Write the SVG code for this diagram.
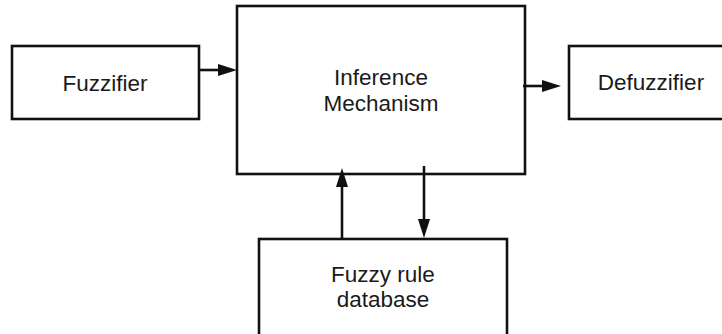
<svg xmlns="http://www.w3.org/2000/svg" width="722" height="334" viewBox="0 0 722 334">
  <style>
    .box { fill: #ffffff; stroke: #111111; stroke-width: 2.6; }
    .label { font-family: "Liberation Sans", Arial, sans-serif; font-size: 22.5px; fill: #1a1a1a; text-anchor: middle; }
    .wire { stroke: #111111; stroke-width: 2.6; fill: none; marker-end: url(#head); }
  </style>
  <defs>
    <marker id="head" markerUnits="userSpaceOnUse" markerWidth="19" markerHeight="12" refX="9" refY="6" orient="auto">
      <path d="M0,0 L19,6 L0,12 z" fill="#111111"/>
    </marker>
  </defs>
  <rect width="722" height="334" fill="#ffffff"/>

  <g id="fuzzifier">
    <rect class="box" x="12" y="46" width="187" height="73"/>
    <text class="label" x="105" y="91">Fuzzifier</text>
  </g>

  <g id="inference">
    <rect class="box" x="237" y="6" width="288" height="168"/>
    <text class="label" x="381" y="85">Inference</text>
    <text class="label" x="381" y="111">Mechanism</text>
  </g>

  <g id="defuzzifier">
    <rect class="box" x="569" y="46" width="170" height="73"/>
    <text class="label" x="651" y="90">Defuzzifier</text>
  </g>

  <g id="rulebase">
    <rect class="box" x="259" y="239" width="248" height="110"/>
    <text class="label" x="383" y="282">Fuzzy rule</text>
    <text class="label" x="383" y="307">database</text>
  </g>

  <g id="connectors">
    <line class="wire" x1="199" y1="70" x2="227" y2="70"/>
    <line class="wire" x1="523" y1="86" x2="551" y2="86"/>
    <line class="wire" x1="342" y1="239" x2="342" y2="178"/>
    <line class="wire" x1="424" y1="166" x2="424" y2="228"/>
  </g>
</svg>
